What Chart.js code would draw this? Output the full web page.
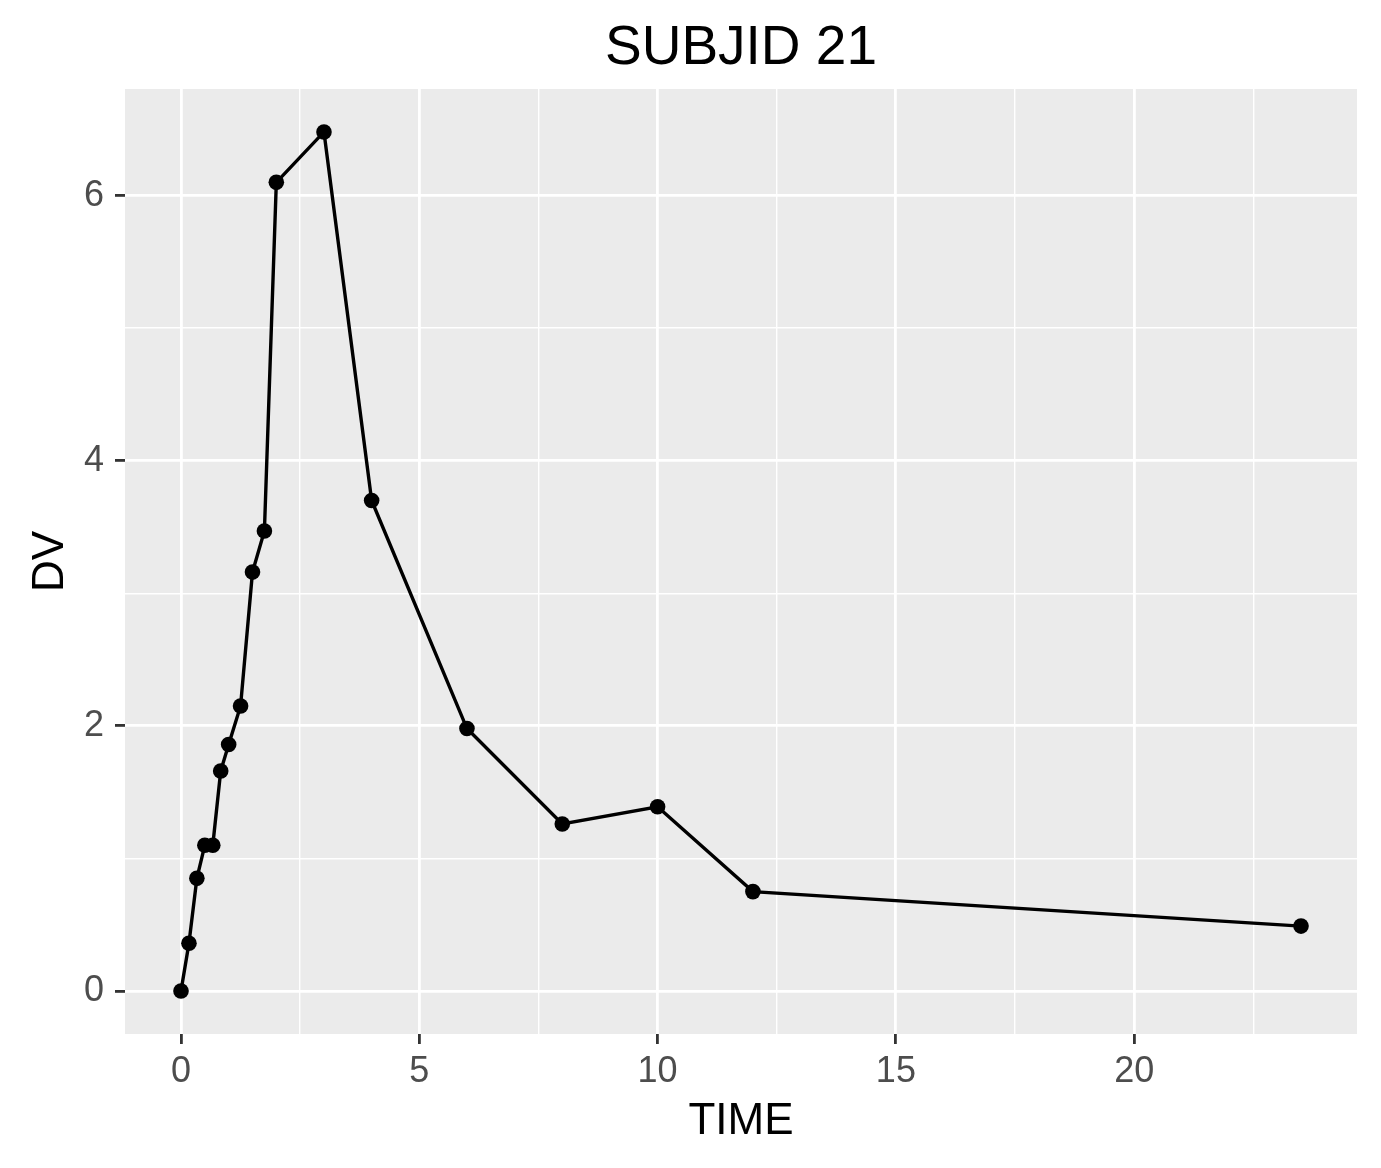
<!DOCTYPE html>
<html>
<head>
<meta charset="utf-8">
<script src="https://cdn.jsdelivr.net/npm/chart.js@4.4.1/dist/chart.umd.min.js"></script>
<style>
  html, body { margin: 0; padding: 0; background: #ffffff; }
  #wrap { width: 1381px; height: 1168px; position: relative; }
</style>
</head>
<body>
<div id="wrap"><canvas id="c" width="1381" height="1168"></canvas></div>
<script>
// ---- data ----
const chartTitle = "SUBJID 21";
const xTitle = "TIME";
const yTitle = "DV";
const timeValues = [0, 0.167, 0.333, 0.5, 0.667, 0.833, 1, 1.25, 1.5, 1.75, 2, 3, 4, 6, 8, 10, 12, 23.5];
const dvValues   = [0, 0.36, 0.85, 1.10, 1.10, 1.66, 1.86, 2.15, 3.16, 3.47, 6.10, 6.48, 3.70, 1.98, 1.26, 1.39, 0.75, 0.49];
const xMajorTicks = [0, 5, 10, 15, 20];
const xMinorTicks = [2.5, 7.5, 12.5, 17.5, 22.5];
const yMajorTicks = [0, 2, 4, 6];
const yMinorTicks = [1, 3, 5];

// ggplot-style 5% expansion
const xDataMin = Math.min(...timeValues), xDataMax = Math.max(...timeValues);
const yDataMin = Math.min(...dvValues), yDataMax = Math.max(...dvValues);
const xPad = (xDataMax - xDataMin) * 0.05, yPad = (yDataMax - yDataMin) * 0.05;

const points = timeValues.map((t, i) => ({ x: t, y: dvValues[i] }));

const FONT = "'Liberation Sans', Arial, sans-serif";

const panelBg = {
  id: 'panelBg',
  beforeDraw(chart) {
    const { ctx, chartArea: a } = chart;
    ctx.save();
    ctx.fillStyle = '#EBEBEB';
    ctx.fillRect(a.left, a.top, a.right - a.left, a.bottom - a.top);
    ctx.restore();
  }
};

// Title centred over the panel (as ggplot does)
const panelTitle = {
  id: 'panelTitle',
  afterDraw(chart) {
    const { ctx, chartArea: a } = chart;
    ctx.save();
    ctx.fillStyle = '#000000';
    ctx.font = "55px " + FONT;
    ctx.textAlign = 'center';
    ctx.textBaseline = 'alphabetic';
    ctx.fillText(chartTitle, (a.left + a.right) / 2, 64);
    ctx.restore();
  }
};

function tickSet(majors, minors) {
  return function (scale) {
    const all = majors.map(v => ({ value: v, major: true }))
      .concat(minors.map(v => ({ value: v, major: false })));
    all.sort((a, b) => a.value - b.value);
    scale.ticks = all;
  };
}
const isMajor = (ctx) => ctx.tick && ctx.tick.major;

new Chart(document.getElementById('c'), {
  type: 'line',
  data: {
    datasets: [{
      data: points,
      borderColor: '#000000',
      backgroundColor: '#000000',
      borderWidth: 3.4,
      pointRadius: 7.8,
      pointHoverRadius: 7.8,
      pointBorderWidth: 0,
      pointBackgroundColor: '#000000',
      tension: 0,
      fill: false
    }]
  },
  options: {
    responsive: false,
    animation: false,
    devicePixelRatio: 1,
    layout: { padding: { left: 0, right: 24, top: 89, bottom: 0 } },
    plugins: {
      legend: { display: false },
      tooltip: { enabled: false },
      title: { display: false }
    },
    scales: {
      x: {
        type: 'linear',
        min: xDataMin - xPad,
        max: xDataMax + xPad,
        afterBuildTicks: tickSet(xMajorTicks, xMinorTicks),
        afterFit(scale) { scale.height = 134; },
        border: { display: false },
        grid: {
          color: '#FFFFFF',
          lineWidth: (ctx) => isMajor(ctx) ? 2.8 : 1.4,
          drawTicks: true,
          tickLength: 10,
          tickColor: (ctx) => isMajor(ctx) ? '#333333' : 'rgba(0,0,0,0)',
          tickWidth: 2.8
        },
        ticks: {
          autoSkip: false,
          maxRotation: 0,
          padding: 6,
          color: '#4D4D4D',
          font: { family: FONT, size: 36 },
          callback: (v) => xMajorTicks.includes(v) ? String(v) : ''
        },
        title: {
          display: true,
          text: xTitle,
          color: '#000000',
          font: { family: FONT, size: 44, lineHeight: 1.2 },
          padding: { top: 0, bottom: 20 }
        }
      },
      y: {
        type: 'linear',
        min: yDataMin - yPad,
        max: yDataMax + yPad,
        afterBuildTicks: tickSet(yMajorTicks, yMinorTicks),
        afterFit(scale) { scale.width = 125; },
        border: { display: false },
        grid: {
          color: '#FFFFFF',
          lineWidth: (ctx) => isMajor(ctx) ? 2.8 : 1.4,
          drawTicks: true,
          tickLength: 10,
          tickColor: (ctx) => isMajor(ctx) ? '#333333' : 'rgba(0,0,0,0)',
          tickWidth: 2.8
        },
        ticks: {
          autoSkip: false,
          padding: 11,
          color: '#4D4D4D',
          font: { family: FONT, size: 36 },
          callback: (v) => yMajorTicks.includes(v) ? String(v) : ''
        },
        title: {
          display: true,
          text: yTitle,
          color: '#000000',
          font: { family: FONT, size: 44, lineHeight: 1.2 },
          padding: { top: 24, bottom: 0 }
        }
      }
    }
  },
  plugins: [panelBg, panelTitle]
});
</script>
</body>
</html>
